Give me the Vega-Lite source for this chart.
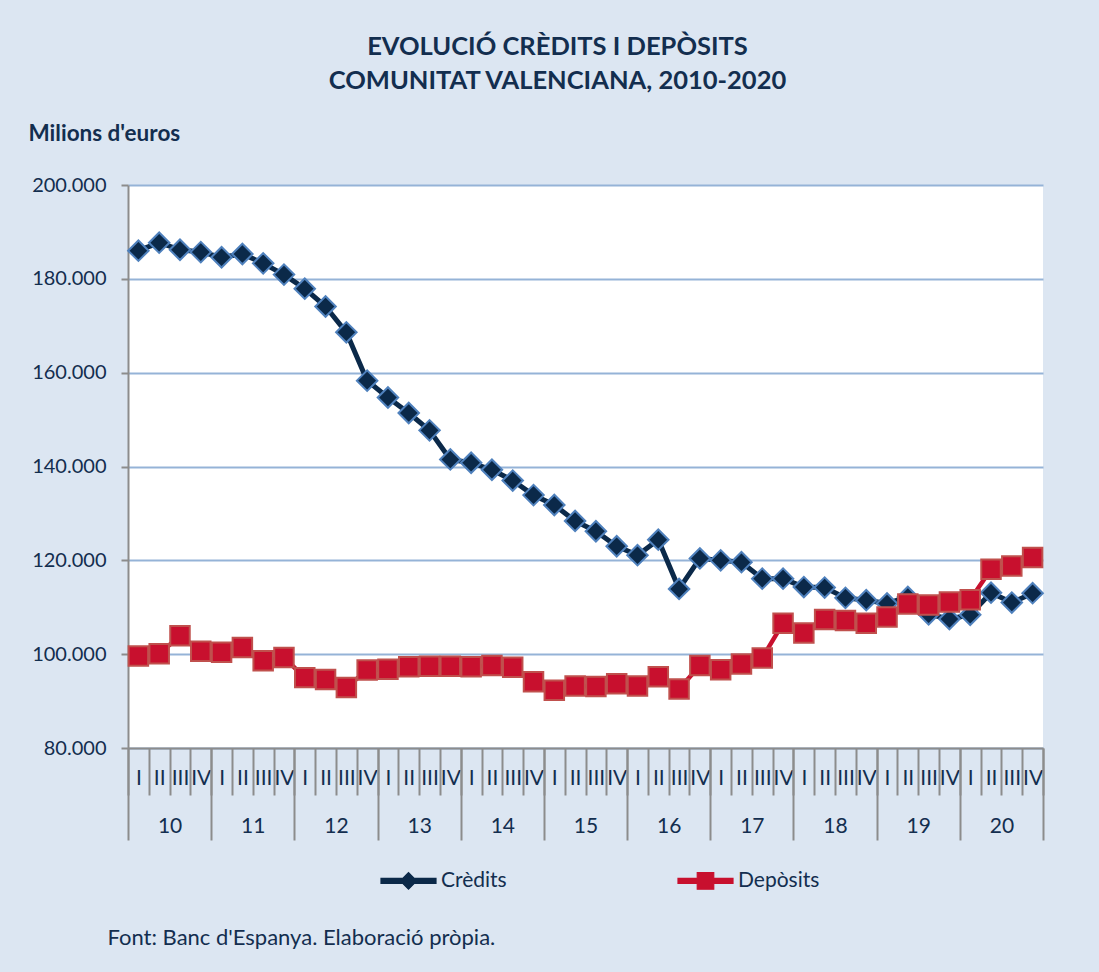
{
  "$schema": "https://vega.github.io/schema/vega-lite/v6.json",
  "width": 915,
  "height": 563,
  "autosize": {"type": "none"},
  "padding": {"left": 128, "top": 185, "right": 56, "bottom": 224},
  "background": "#DCE6F2",
  "config": {"view": {"fill": "#FFFFFF", "stroke": null}, "font": "Lato"},
  "title": {
    "text": ["EVOLUCIÓ CRÈDITS I DEPÒSITS", "COMUNITAT VALENCIANA, 2010-2020"],
    "font": "Lato",
    "fontSize": 25.5,
    "fontWeight": "bold",
    "color": "#132E4F",
    "anchor": "middle",
    "frame": "group",
    "dx": -28,
    "offset": 28,
    "lineHeight": 34
  },
  "data": {
    "values": [
      {"i": 1, "s": "Crèdits", "v": 186000},
      {"i": 2, "s": "Crèdits", "v": 187700},
      {"i": 3, "s": "Crèdits", "v": 186200},
      {"i": 4, "s": "Crèdits", "v": 185700},
      {"i": 5, "s": "Crèdits", "v": 184600},
      {"i": 6, "s": "Crèdits", "v": 185300},
      {"i": 7, "s": "Crèdits", "v": 183300},
      {"i": 8, "s": "Crèdits", "v": 180900},
      {"i": 9, "s": "Crèdits", "v": 177900},
      {"i": 10, "s": "Crèdits", "v": 174100},
      {"i": 11, "s": "Crèdits", "v": 168600},
      {"i": 12, "s": "Crèdits", "v": 158300},
      {"i": 13, "s": "Crèdits", "v": 154700},
      {"i": 14, "s": "Crèdits", "v": 151400},
      {"i": 15, "s": "Crèdits", "v": 147700},
      {"i": 16, "s": "Crèdits", "v": 141500},
      {"i": 17, "s": "Crèdits", "v": 140800},
      {"i": 18, "s": "Crèdits", "v": 139300},
      {"i": 19, "s": "Crèdits", "v": 137000},
      {"i": 20, "s": "Crèdits", "v": 133900},
      {"i": 21, "s": "Crèdits", "v": 131800},
      {"i": 22, "s": "Crèdits", "v": 128400},
      {"i": 23, "s": "Crèdits", "v": 126200},
      {"i": 24, "s": "Crèdits", "v": 123000},
      {"i": 25, "s": "Crèdits", "v": 121100},
      {"i": 26, "s": "Crèdits", "v": 124400},
      {"i": 27, "s": "Crèdits", "v": 113900},
      {"i": 28, "s": "Crèdits", "v": 120400},
      {"i": 29, "s": "Crèdits", "v": 120000},
      {"i": 30, "s": "Crèdits", "v": 119600},
      {"i": 31, "s": "Crèdits", "v": 116100},
      {"i": 32, "s": "Crèdits", "v": 116100},
      {"i": 33, "s": "Crèdits", "v": 114300},
      {"i": 34, "s": "Crèdits", "v": 114200},
      {"i": 35, "s": "Crèdits", "v": 112000},
      {"i": 36, "s": "Crèdits", "v": 111500},
      {"i": 37, "s": "Crèdits", "v": 110800},
      {"i": 38, "s": "Crèdits", "v": 112200},
      {"i": 39, "s": "Crèdits", "v": 108500},
      {"i": 40, "s": "Crèdits", "v": 107500},
      {"i": 41, "s": "Crèdits", "v": 108400},
      {"i": 42, "s": "Crèdits", "v": 113100},
      {"i": 43, "s": "Crèdits", "v": 111000},
      {"i": 44, "s": "Crèdits", "v": 113000},
      {"i": 1, "s": "Depòsits", "v": 99600},
      {"i": 2, "s": "Depòsits", "v": 100100},
      {"i": 3, "s": "Depòsits", "v": 103900},
      {"i": 4, "s": "Depòsits", "v": 100600},
      {"i": 5, "s": "Depòsits", "v": 100400},
      {"i": 6, "s": "Depòsits", "v": 101400},
      {"i": 7, "s": "Depòsits", "v": 98600},
      {"i": 8, "s": "Depòsits", "v": 99300},
      {"i": 9, "s": "Depòsits", "v": 95000},
      {"i": 10, "s": "Depòsits", "v": 94600},
      {"i": 11, "s": "Depòsits", "v": 92900},
      {"i": 12, "s": "Depòsits", "v": 96600},
      {"i": 13, "s": "Depòsits", "v": 96800},
      {"i": 14, "s": "Depòsits", "v": 97300},
      {"i": 15, "s": "Depòsits", "v": 97400},
      {"i": 16, "s": "Depòsits", "v": 97400},
      {"i": 17, "s": "Depòsits", "v": 97300},
      {"i": 18, "s": "Depòsits", "v": 97600},
      {"i": 19, "s": "Depòsits", "v": 97200},
      {"i": 20, "s": "Depòsits", "v": 94100},
      {"i": 21, "s": "Depòsits", "v": 92300},
      {"i": 22, "s": "Depòsits", "v": 93200},
      {"i": 23, "s": "Depòsits", "v": 93100},
      {"i": 24, "s": "Depòsits", "v": 93700},
      {"i": 25, "s": "Depòsits", "v": 93200},
      {"i": 26, "s": "Depòsits", "v": 95200},
      {"i": 27, "s": "Depòsits", "v": 92600},
      {"i": 28, "s": "Depòsits", "v": 97600},
      {"i": 29, "s": "Depòsits", "v": 96700},
      {"i": 30, "s": "Depòsits", "v": 97900},
      {"i": 31, "s": "Depòsits", "v": 99200},
      {"i": 32, "s": "Depòsits", "v": 106600},
      {"i": 33, "s": "Depòsits", "v": 104500},
      {"i": 34, "s": "Depòsits", "v": 107400},
      {"i": 35, "s": "Depòsits", "v": 107200},
      {"i": 36, "s": "Depòsits", "v": 106600},
      {"i": 37, "s": "Depòsits", "v": 107900},
      {"i": 38, "s": "Depòsits", "v": 110700},
      {"i": 39, "s": "Depòsits", "v": 110500},
      {"i": 40, "s": "Depòsits", "v": 111100},
      {"i": 41, "s": "Depòsits", "v": 111600},
      {"i": 42, "s": "Depòsits", "v": 118100},
      {"i": 43, "s": "Depòsits", "v": 118800},
      {"i": 44, "s": "Depòsits", "v": 120600}
    ]
  },
  "encoding": {
    "y": {
      "field": "v", "type": "quantitative",
      "scale": {"domain": [80000, 200000], "nice": false, "zero": false},
      "axis": {
        "values": [80000, 100000, 120000, 140000, 160000, 180000, 200000],
        "labelExpr": "format(datum.value / 1000, 'd') + '.000'",
        "grid": true, "gridColor": "#95B3D7", "gridWidth": 2,
        "domain": true, "domainColor": "#8C8C8C", "domainWidth": 2,
        "ticks": true, "tickColor": "#8C8C8C", "tickWidth": 2, "tickSize": 7,
        "labelFont": "Lato", "labelFontSize": 20, "labelColor": "#132E4F", "labelPadding": 15,
        "title": "Milions d'euros", "titleAngle": 0, "titleX": -100, "titleY": -52,
        "titleAlign": "left", "titleBaseline": "middle",
        "titleFont": "Lato", "titleFontSize": 22.5, "titleFontWeight": "bold", "titleColor": "#132E4F"
      }
    }
  },
  "layer": [
    {
      "transform": [{"filter": {"field": "s", "equal": "Crèdits"}}],
      "mark": {"type": "line", "strokeWidth": 5, "strokeJoin": "round"},
      "encoding": {
        "x": {
          "field": "i", "type": "quantitative",
          "scale": {"domain": [0.5, 44.5], "nice": false, "zero": false},
          "axis": {
            "orient": "bottom",
            "values": [1,2,3,4,5,6,7,8,9,10,11,12,13,14,15,16,17,18,19,20,21,22,23,24,25,26,27,28,29,30,31,32,33,34,35,36,37,38,39,40,41,42,43,44],
            "labelExpr": "['I','II','III','IV'][(datum.value - 1) % 4]",
            "ticks": false, "tickSize": 0, "grid": false,
            "domain": true, "domainColor": "#8C8C8C", "domainWidth": 2,
            "labelFont": "Lato", "labelFontSize": 21, "labelColor": "#132E4F",
            "labelPadding": 30, "labelBaseline": "middle",
            "labelOverlap": false, "labelFlush": false, "title": null
          }
        },
        "color": {
          "field": "s", "type": "nominal",
          "scale": {"domain": ["Crèdits", "Depòsits"], "range": ["#0B2949", "#C8102E"]},
          "legend": {
            "orient": "none", "legendX": 252, "legendY": 667,
            "direction": "horizontal", "title": null, "padding": 0,
            "labelFont": "Lato", "labelFontSize": 21, "labelColor": "#132E4F", "labelOffset": 4,
            "columnPadding": 168, "symbolSize": 3025,
            "encode": {
              "symbols": {
                "update": {
                  "shape": {"signal": "datum.value === 'Crèdits' ? 'M-1,-0.09L-0.21,-0.09L0,-0.3L0.21,-0.09L1,-0.09L1,0.09L0.21,0.09L0,0.3L-0.21,0.09L-1,0.09Z' : 'M-1,-0.09L-0.3,-0.09L-0.3,-0.3L0.3,-0.3L0.3,-0.09L1,-0.09L1,0.09L0.3,0.09L0.3,0.3L-0.3,0.3L-0.3,0.09L-1,0.09Z'"},
                  "fill": {"signal": "datum.value === 'Crèdits' ? '#0B2949' : '#C8102E'"},
                  "stroke": {"signal": "datum.value === 'Crèdits' ? '#4F81BD' : '#C0504D'"},
                  "strokeWidth": {"value": 1.2},
                  "opacity": {"value": 1}
                }
              }
            }
          }
        }
      }
    },
    {
      "transform": [{"filter": {"field": "s", "equal": "Crèdits"}}],
      "mark": {"type": "point", "shape": "diamond", "filled": true, "opacity": 1, "size": 420, "fill": "#0B2949", "stroke": "#4F81BD", "strokeWidth": 2},
      "encoding": {
        "x": {
          "field": "i", "type": "quantitative",
          "scale": {"domain": [0.5, 44.5], "nice": false, "zero": false},
          "axis": {
            "orient": "bottom",
            "values": [0.5,1.5,2.5,3.5,4.5,5.5,6.5,7.5,8.5,9.5,10.5,11.5,12.5,13.5,14.5,15.5,16.5,17.5,18.5,19.5,20.5,21.5,22.5,23.5,24.5,25.5,26.5,27.5,28.5,29.5,30.5,31.5,32.5,33.5,34.5,35.5,36.5,37.5,38.5,39.5,40.5,41.5,42.5,43.5,44.5],
            "labels": false, "ticks": true, "tickSize": 47, "tickColor": "#8C8C8C", "tickWidth": 2,
            "domain": false, "grid": false, "title": null
          }
        }
      }
    },
    {
      "transform": [{"filter": {"field": "s", "equal": "Depòsits"}}],
      "mark": {"type": "line", "strokeWidth": 4.5, "strokeJoin": "round"},
      "encoding": {
        "x": {
          "field": "i", "type": "quantitative",
          "scale": {"domain": [0.5, 44.5], "nice": false, "zero": false},
          "axis": {
            "orient": "bottom",
            "values": [0.5,4.5,8.5,12.5,16.5,20.5,24.5,28.5,32.5,36.5,40.5,44.5],
            "labels": false, "ticks": true, "tickSize": 92, "tickColor": "#8C8C8C", "tickWidth": 2,
            "domain": false, "grid": false, "title": null
          }
        },
        "color": {
          "field": "s", "type": "nominal",
          "scale": {"domain": ["Crèdits", "Depòsits"], "range": ["#0B2949", "#C8102E"]}
        }
      }
    },
    {
      "transform": [{"filter": {"field": "s", "equal": "Depòsits"}}],
      "mark": {"type": "point", "shape": "square", "filled": true, "opacity": 1, "size": 380, "fill": "#C8102E", "stroke": "#C0504D", "strokeWidth": 2},
      "encoding": {
        "x": {
          "field": "i", "type": "quantitative",
          "scale": {"domain": [0.5, 44.5], "nice": false, "zero": false},
          "axis": {
            "orient": "bottom",
            "values": [2.5,6.5,10.5,14.5,18.5,22.5,26.5,30.5,34.5,38.5,42.5],
            "labelExpr": "'' + (10 + floor((datum.value - 0.5) / 4))",
            "ticks": false, "tickSize": 0, "domain": false, "grid": false,
            "labelFont": "Lato", "labelFontSize": 21, "labelColor": "#132E4F",
            "labelPadding": 78, "labelBaseline": "middle", "labelOverlap": false, "labelFlush": false,
            "title": "Font: Banc d'Espanya. Elaboració pròpia.",
            "titleX": -21, "titleY": 189, "titleAlign": "left", "titleBaseline": "middle",
            "titleFont": "Lato", "titleFontSize": 22, "titleFontWeight": "normal", "titleColor": "#132E4F"
          }
        }
      }
    }
  ],
  "resolve": {"axis": {"x": "independent"}}
}
